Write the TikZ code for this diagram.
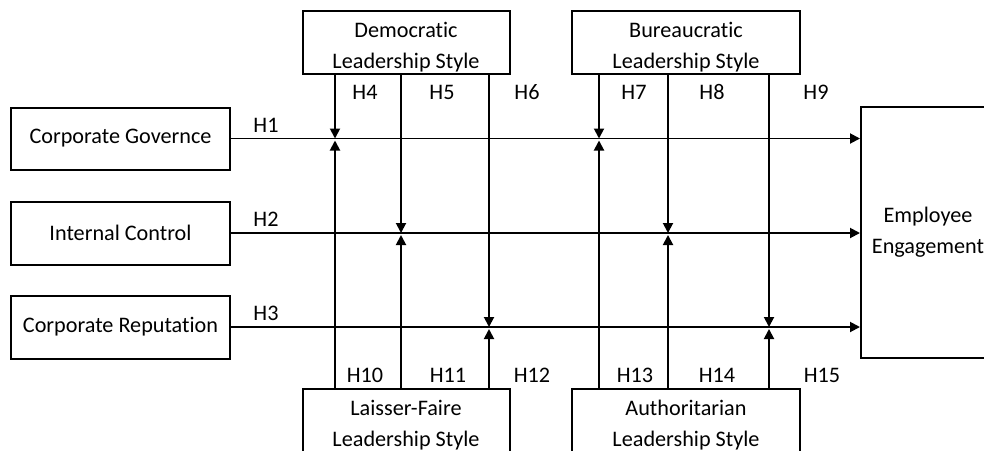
\documentclass[tikz,border=0pt]{standalone}
\usepackage{fontspec}
\setmainfont[Ligatures=NoCommon]{Carlito}
\usetikzlibrary{arrows.meta}
\newcommand\tallfirst{\rule{0pt}{25pt}}
\begin{document}
\begin{tikzpicture}[x=1pt,y=-1pt,
  box/.style={draw=black, line width=2pt, fill=white, align=center, inner sep=0pt,
    font=\fontsize{22.2}{31}\selectfont},
  conn/.style={line width=1.9pt, -{Triangle[length=10pt,width=10pt]}},
  lbl/.style={inner sep=0pt, font=\fontsize{22.2}{26}\selectfont}]
\useasboundingbox (0,0) rectangle (984,450);
\fill[white] (0,0) rectangle (984,450);
\clip (0,0) rectangle (984,450);
% boxes
\node[box, minimum width=207pt, minimum height=63pt] (dem) at (406,42.5) {\tallfirst Democratic\\Leadership Style};
\node[box, minimum width=228pt, minimum height=63pt] (bur) at (686,42.5) {\tallfirst Bureaucratic\\Leadership Style};
\node[box, minimum width=207pt, minimum height=63pt] (lf) at (406,420.5) {\tallfirst Laisser-Faire\\Leadership Style};
\node[box, minimum width=228pt, minimum height=63pt] (au) at (686,420.5) {\tallfirst Authoritarian\\Leadership Style};
\node[box, minimum width=219pt, minimum height=62pt] (cg) at (120.5,138.5) {Corporate Governce};
\node[box, minimum width=219pt, minimum height=63pt] (ic) at (120.5,233) {Internal Control};
\node[box, minimum width=219pt, minimum height=63pt] (cr) at (120.5,327) {Corporate Reputation};
\node[box, minimum width=134pt, minimum height=251pt] (ee) at (928,232) {Employee\\Engagement};
% column positions
\coordinate (c4) at (335,0);
\coordinate (c5) at (401,0);
\coordinate (c6) at (489,0);
\coordinate (c7) at (599,0);
\coordinate (c8) at (668,0);
\coordinate (c9) at (769,0);
% main paths
\draw[conn] (cg.east) -- (ee.west |- cg.east);
\draw[conn] (ic.east) -- (ee.west |- ic.east);
\draw[conn] (cr.east) -- (ee.west |- cr.east);
% moderators from top
\draw[conn] (dem.south -| c4) -- (c4 |- cg.east);
\draw[conn] (dem.south -| c5) -- (c5 |- ic.east);
\draw[conn] (dem.south -| c6) -- (c6 |- cr.east);
\draw[conn] (bur.south -| c7) -- (c7 |- cg.east);
\draw[conn] (bur.south -| c8) -- (c8 |- ic.east);
\draw[conn] (bur.south -| c9) -- (c9 |- cr.east);
% moderators from bottom
\draw[conn, shorten >=2pt] (lf.north -| c4) -- (c4 |- cg.east);
\draw[conn, shorten >=2pt] (lf.north -| c5) -- (c5 |- ic.east);
\draw[conn, shorten >=2pt] (lf.north -| c6) -- (c6 |- cr.east);
\draw[conn, shorten >=2pt] (au.north -| c7) -- (c7 |- cg.east);
\draw[conn, shorten >=2pt] (au.north -| c8) -- (c8 |- ic.east);
\draw[conn, shorten >=2pt] (au.north -| c9) -- (c9 |- cr.east);
% labels
\node[lbl] (h1) at (266,125) {H1};
\node[lbl] (h2) at (266,219) {H2};
\node[lbl] (h3) at (266,313) {H3};
\node[lbl] (h4) at (365,92) {H4};
\node[lbl] (h5) at (442,92) {H5};
\node[lbl] (h6) at (527,92) {H6};
\node[lbl] (h7) at (634,92) {H7};
\node[lbl] (h8) at (712,92) {H8};
\node[lbl] (h9) at (816,92) {H9};
\node[lbl] (h10) at (365,375) {H10};
\node[lbl] (h11) at (448,375) {H11};
\node[lbl] (h12) at (532,375) {H12};
\node[lbl] (h13) at (635,375) {H13};
\node[lbl] (h14) at (717,375) {H14};
\node[lbl] (h15) at (822,375) {H15};
\end{tikzpicture}
\end{document}
